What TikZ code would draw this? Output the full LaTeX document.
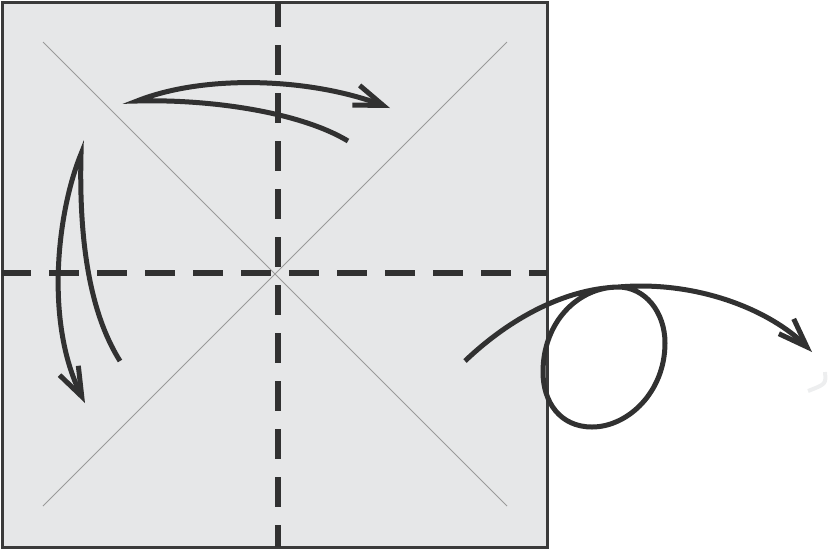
\documentclass[tikz,border=0pt]{standalone}
\usetikzlibrary{arrows.meta}
\definecolor{paper}{HTML}{E6E7E8}
\definecolor{ink}{HTML}{313131}
\definecolor{edge}{HTML}{3A3A3A}
\definecolor{diag}{HTML}{9A9A9A}
\definecolor{ghost}{HTML}{EDEEEF}
\tikzset{
  sheet/.style={fill=paper, draw=edge, line width=3pt},
  crease/.style={draw=diag, line width=1pt},
  valley/.style={draw=ink, line width=5.5pt, dash pattern=on 30pt off 18pt},
  motion/.style={draw=ink, line width=5pt, line join=miter, miter limit=10,
    -{Straight Barb[length=29pt, width=21pt, line width=5pt]}},
}
\begin{document}
\begin{tikzpicture}[x=1pt, y=-1pt]
\useasboundingbox (0,0) rectangle (828,550);
% sheet
\coordinate (tl) at (2,2);
\coordinate (br) at (547,547);
\path[sheet] (tl) rectangle (br);
% diagonal creases
\coordinate (d1) at (43,42);
\coordinate (d2) at (507,506);
\coordinate (d3) at (507,42);
\coordinate (d4) at (43,506);
\draw[crease] (d1) -- (d2);
\draw[crease] (d3) -- (d4);
% valley folds
\coordinate (vt) at (278,2);
\coordinate (vb) at (278,547);
\coordinate (hl) at (2,273);
\coordinate (hr) at (547,273);
\draw[valley, dash phase=5pt] (vt) -- (vb);
\draw[valley, dash phase=1pt] (hl) -- (hr);
% top arrow
\coordinate (a1s) at (348,141);
\coordinate (a1p) at (137,101);
\coordinate (a1e) at (390,108);
\draw[motion] (a1s) .. controls (300,112) and (210,99) .. (a1p)
  .. controls (205,74) and (310,78) .. (a1e);
% left arrow
\coordinate (a2s) at (120,361);
\coordinate (a2p) at (81,154);
\coordinate (a2e) at (85,403);
\draw[motion] (a2s) .. controls (88,310) and (79,235) .. (a2p)
  .. controls (58,210) and (44,320) .. (a2e);
% loop arrow
\coordinate (a3s) at (465,361);
\coordinate (lt) at (618,287);
\coordinate (lr) at (665,343);
\coordinate (lb) at (592,427);
\coordinate (ll) at (543,372);
\coordinate (a3e) at (812,352);
\draw[motion] (a3s) .. controls (510,318) and (565,289) .. (lt)
  .. controls (645,287) and (665,312) .. (lr)
  .. controls (665,392) and (628,427) .. (lb)
  .. controls (560,427) and (543,402) .. (ll)
  .. controls (543,322) and (578,287) .. (lt)
  .. controls (700,280) and (772,312) .. (a3e);
% faint remnant
\coordinate (g1) at (825,372);
\coordinate (g2) at (808,391);
\draw[ghost, line width=4pt] (g1) .. controls (826,384) .. (g2);
\end{tikzpicture}
\end{document}
